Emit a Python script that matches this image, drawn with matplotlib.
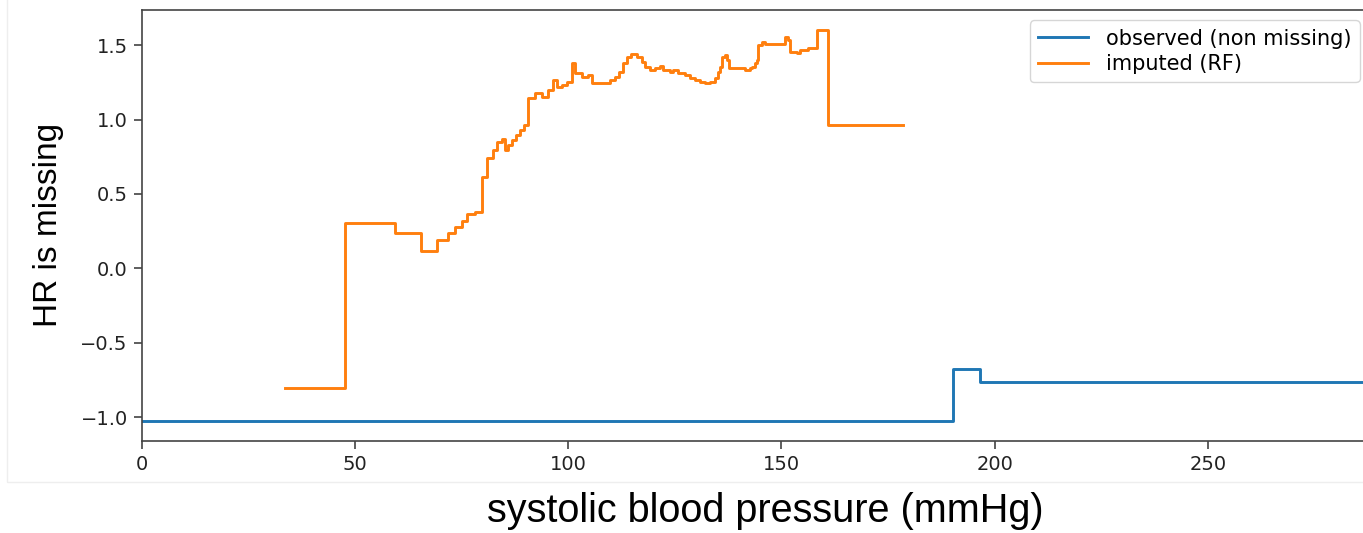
import numpy as np
import matplotlib.pyplot as plt
from matplotlib.patches import Rectangle

# partial dependence of "HR is missing" on systolic blood pressure (step curves)
sbp_observed = [0, 190.3, 196.6, 292]
hr_observed = [-1.025, -0.677, -0.765, -0.765]

sbp_imputed = [33.6, 47.7, 59.4, 65.6, 69.2, 71.8, 73.5, 75.0, 76.3, 78.1,
               79.7, 80.9, 82.3, 83.3, 84.5, 85.2, 85.9, 86.8, 87.7, 88.7,
               89.6, 90.6, 92.2, 93.8, 95.3, 96.5, 97.4, 98.5, 99.7, 100.8,
               101.6, 103.2, 104.6, 105.5, 107.5, 109.8, 110.9, 112.0, 112.9, 113.8,
               114.7, 116.1, 117.4, 118.1, 119.2, 120.4, 121.5, 122.2, 123.9, 124.6,
               125.7, 127.4, 128.5, 129.8, 130.9, 132.1, 133.2, 134.5, 135.2, 135.6,
               136.1, 136.8, 137.2, 137.7, 141.5, 142.6, 143.1, 143.8, 144.2, 144.5,
               145.5, 146.2, 150.8, 151.6, 152.1, 153.6, 154.3, 156.3, 158.3, 160.9,
               178.5]
hr_imputed = [-0.803, 0.307, 0.237, 0.116, 0.19, 0.237, 0.278, 0.318, 0.365, 0.379,
              0.616, 0.742, 0.796, 0.851, 0.87, 0.796, 0.829, 0.863, 0.896, 0.93,
              0.964, 1.145, 1.179, 1.154, 1.199, 1.266, 1.221, 1.233, 1.255, 1.381,
              1.313, 1.289, 1.30, 1.246, 1.244, 1.266, 1.289, 1.322, 1.381, 1.423,
              1.441, 1.423, 1.389, 1.356, 1.334, 1.347, 1.36, 1.334, 1.322, 1.334,
              1.311, 1.30, 1.278, 1.266, 1.255, 1.244, 1.255, 1.278, 1.322, 1.356,
              1.423, 1.434, 1.40, 1.345, 1.334, 1.345, 1.356, 1.379, 1.40, 1.502,
              1.524, 1.508, 1.558, 1.535, 1.457, 1.446, 1.468, 1.479, 1.603, 0.964,
              0.964]

W, H = 1363, 533
fig = plt.figure(figsize=(W / 100, H / 100), dpi=100)
ax = fig.add_axes([141.7 / W, 1 - 440.7 / H, (1370 - 141.7) / W, (440.7 - 10) / H])

ax.plot(sbp_observed, hr_observed, drawstyle='steps-post', color='#1f77b4',
        lw=2.1, label='observed (non missing)')
ax.plot(sbp_imputed, hr_imputed, drawstyle='steps-post', color='#ff7f0e',
        lw=2.1, label='imputed (RF)')

ax.set_xlim(0, 288.0)
ax.set_ylim(-1.159, 1.737)
ax.set_xticks([0, 50, 100, 150, 200, 250])
ax.set_yticks([-1.0, -0.5, 0.0, 0.5, 1.0, 1.5])
ax.tick_params(labelsize=14, length=6, width=1.1, pad=4,
               colors='#333333', labelcolor='#222222')
for s in ax.spines.values():
    s.set_linewidth(1.2)
    s.set_color('#444444')

ax.set_xlabel('systolic blood pressure (mmHg)', fontsize=28.5, family='Liberation Sans')
ax.xaxis.set_label_coords(0.5075, -0.118)
ax.set_ylabel('HR is missing', fontsize=24, family='Liberation Sans')
ax.yaxis.set_label_coords(-0.063, 0.5)

ax.legend(loc='upper right', fontsize=15, handlelength=2.4, handletextpad=0.85,
          labelspacing=0.25, borderaxespad=0.5)

# faint frame around the plotting area
fig.add_artist(Rectangle((7 / W, 1 - 482 / H), 1.0, 1.0, transform=fig.transFigure,
                         fill=False, edgecolor='#eeeeee', lw=1.0))

fig.savefig('out.png', dpi=100)
